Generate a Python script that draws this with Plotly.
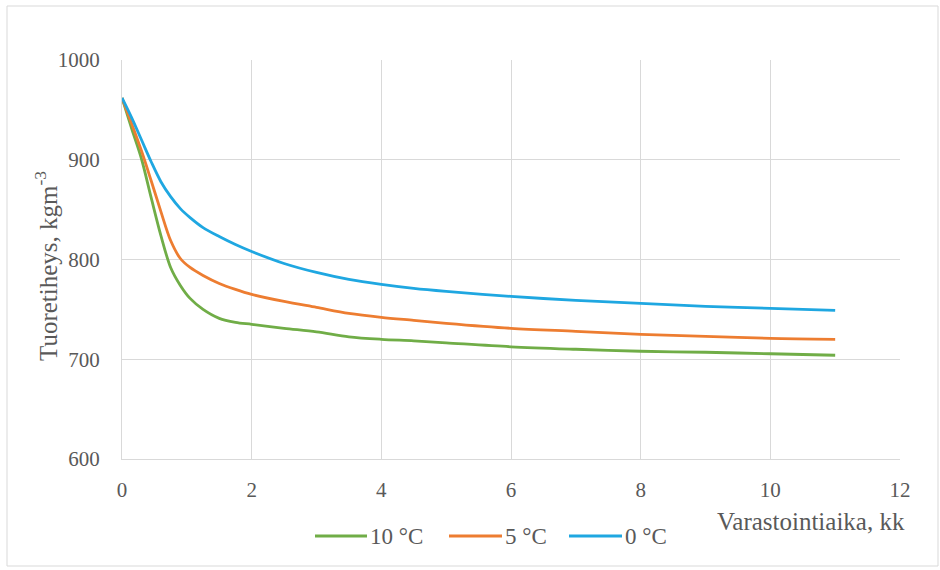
import plotly.graph_objects as go

months = [0, 0.15, 0.3, 0.45, 0.6, 0.75, 0.9, 1.05, 1.25, 1.5, 1.75, 2, 2.5, 3, 3.5, 4, 4.5, 5, 6, 7, 8, 9, 10, 11]
temp10 = [962, 931, 901, 862, 824, 792, 774, 761, 750, 741, 737, 735, 731, 727.5, 722.5, 720, 718.5, 716.5, 712.5, 710, 708, 707, 705.5, 704]
temp5 = [962, 936, 909, 879, 848, 819, 801, 792, 784, 776, 770, 765, 758, 752, 746, 742, 739, 736, 731, 728, 725, 723, 721, 720]
temp0 = [962, 942, 920, 898, 878, 863, 851, 842, 832, 823, 815, 808, 796, 787, 780, 775, 771, 768, 763, 759, 756, 753, 751, 749]
series_names = ["10 °C", "5 °C", "0 °C"]
colors = ["#70AD47", "#ED7D31", "#1FA7E1"]
x_ticks = [0, 2, 4, 6, 8, 10, 12]
y_ticks = [600, 700, 800, 900, 1000]

FONT = "'Liberation Serif', 'DejaVu Serif', serif"
TXT = "#595959"
GRID = "#D9D9D9"

fig = go.Figure()
for name, vals, col in zip(series_names, [temp10, temp5, temp0], colors):
    fig.add_trace(go.Scatter(x=months, y=vals, mode="lines", name=name, showlegend=False,
                             line=dict(color=col, width=2.8, shape="spline", smoothing=0.9)))

W, H = 940, 570
L, R, T, B = 122, 40, 60, 111
pw = W - L - R
ph = H - T - B

def px_to_paper_x(px):
    return (px - L) / pw

def px_to_paper_y(py):
    return (H - B - py) / ph

# manual legend (line sample + text), positions in pixels
legend_line_x = [(315, 367), (449, 502), (569, 622)]
legend_y = 536
shapes = [dict(type="rect", xref="paper", yref="paper",
               x0=px_to_paper_x(7), x1=px_to_paper_x(938), y0=px_to_paper_y(566), y1=px_to_paper_y(6),
               line=dict(color=GRID, width=1), layer="below")]
annotations = [
    dict(text="Varastointiaika, kk", xref="paper", yref="paper",
         x=px_to_paper_x(907), y=px_to_paper_y(521), xanchor="right", yanchor="middle",
         showarrow=False, font=dict(family=FONT, size=25, color=TXT)),
    dict(text="Tuoretiheys, kgm<sup>-3</sup>", xref="paper", yref="paper", textangle=-90,
         x=px_to_paper_x(46), y=px_to_paper_y(266), xanchor="center", yanchor="middle",
         showarrow=False, font=dict(family=FONT, size=25, color=TXT)),
]
for name, col, (x0, x1) in zip(series_names, colors, legend_line_x):
    shapes.append(dict(type="line", xref="paper", yref="paper",
                       x0=px_to_paper_x(x0), x1=px_to_paper_x(x1),
                       y0=px_to_paper_y(legend_y), y1=px_to_paper_y(legend_y),
                       line=dict(color=col, width=3)))
    annotations.append(dict(text=name, xref="paper", yref="paper",
                            x=px_to_paper_x(x1 + 1), y=px_to_paper_y(legend_y), xanchor="left", yanchor="middle",
                            showarrow=False, font=dict(family=FONT, size=23, color=TXT)))

fig.update_layout(
    width=W, height=H,
    margin=dict(l=L, r=R, t=T, b=B),
    paper_bgcolor="white", plot_bgcolor="white",
    font=dict(family=FONT, color=TXT, size=21),
    showlegend=False,
    xaxis=dict(range=[0, 12], tickvals=x_ticks, showgrid=True, gridcolor=GRID, gridwidth=1,
               zeroline=False, showline=True, linecolor=GRID, linewidth=1, ticks="",
               tickfont=dict(family=FONT, size=21, color=TXT), ticklabelstandoff=12, fixedrange=True),
    yaxis=dict(range=[600, 1000], tickvals=y_ticks, showgrid=True, gridcolor=GRID, gridwidth=1,
               zeroline=False, showline=True, linecolor=GRID, linewidth=1, ticks="",
               tickfont=dict(family=FONT, size=21, color=TXT), ticklabelstandoff=17, fixedrange=True),
    annotations=annotations,
    shapes=shapes,
)

fig.write_html("out.html", config={"displayModeBar": False},
               post_script="document.body.style.margin='0';document.body.style.padding='0';")
